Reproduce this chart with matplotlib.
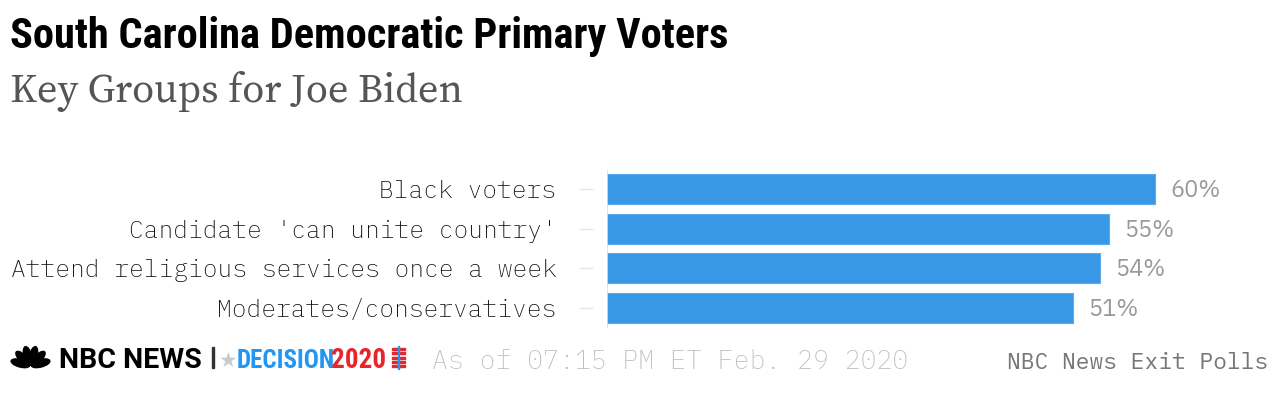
import math
import matplotlib
matplotlib.use("Agg")
import matplotlib.pyplot as plt
from matplotlib.patches import Ellipse, Rectangle
from matplotlib import font_manager

categories = ["Black voters", "Candidate 'can unite country'",
              "Attend religious services once a week", "Moderates/conservatives"]
values = [60, 55, 54, 51]
value_labels = ["60%", "55%", "54%", "51%"]

title = "South Carolina Democratic Primary Voters"
subtitle = "Key Groups for Joe Biden"
timestamp = "As of 07:15 PM ET Feb. 29 2020"
source = "NBC News Exit Polls"

names = {f.name for f in font_manager.fontManager.ttflist}

def pick(cands):
    for c in cands:
        if c in names:
            return c
    return "DejaVu Sans"

cond = pick(["Founders Grotesk Condensed", "Roboto Condensed", "Barlow Semi Condensed",
             "Archivo Narrow", "IBM Plex Sans Condensed", "Liberation Sans Narrow"])
serif = pick(["Publico Headline", "Publico Text", "Source Serif 4", "Source Serif Pro",
              "PT Serif", "Noto Serif", "Liberation Serif"])
mono = pick(["IBM Plex Mono", "DejaVu Sans Mono"])
sans = pick(["IBM Plex Sans", "Liberation Sans"])
grot = pick(["Roboto", "Liberation Sans"])

W, H = 1280, 394
fig = plt.figure(figsize=(W / 100, H / 100), dpi=100)
fig.patch.set_facecolor("white")

def fx(px):
    return px / W

def fy(py):
    return 1 - py / H

# Axes: bars start at x=607, 60% ends at 1155
left_px, right_px = 607, 1280
top_px, bot_px = 169.5, 327.5
ax = fig.add_axes([fx(left_px), fy(bot_px), (right_px - left_px) / W, (bot_px - top_px) / H])
px_per_unit = (1155 - 607) / 60
ax.set_xlim(0, (right_px - left_px) / px_per_unit)
ax.set_ylim(len(categories) - 0.5, -0.5)

ypos = list(range(len(categories)))
ax.barh(ypos, values, height=0.76, color="#3998e5", edgecolor="#5aaaf0", linewidth=0.8)

for y, v, lab in zip(ypos, values, value_labels):
    ax.annotate(lab, (v, y), xytext=(10.8, -1.2), textcoords="offset points",
                va="center", ha="left", color="#999999", fontsize=17,
                family=sans, fontweight="light")

for s in ["top", "right", "bottom"]:
    ax.spines[s].set_visible(False)
ax.spines["left"].set_position(("outward", 10))
ax.spines["left"].set_visible(False)
ax.axvline(0, color="#dddddd", linewidth=1.2)
ax.set_xticks([])
ax.set_yticks(ypos)
ax.set_yticklabels(categories, family=mono, fontsize=17.7, color="#0d0d0d",
                   fontweight="light")
ax.tick_params(axis="y", length=10, width=1, color="#e6e6e6", pad=16.5)
ax.set_facecolor("none")

# Titles
fig.text(fx(10), fy(48), title, fontsize=30.5, fontweight="bold", family=cond,
         color="#000000", va="baseline", ha="left")
fig.text(fx(10), fy(101.5), subtitle, fontsize=29, family=serif,
         color="#555555", va="baseline", ha="left")

# Footer logo approximation (peacock fan)
cx, cy = 30.5, H - 366
for i in range(6):
    ang = 15 + i * 30
    r = 10.5
    e = Ellipse((cx + r * math.cos(math.radians(ang)), cy + r * math.sin(math.radians(ang))),
                width=19, height=7.5, angle=ang, color="black", transform=None)
    fig.add_artist(e)
fig.text(fx(59), fy(367.5), "NBC NEWS", fontsize=20.5, fontweight="bold", family=grot,
         color="black", va="baseline", ha="left")
fig.add_artist(Rectangle((212, H - 368), 1.6, 21, color="#333333", transform=None))
fig.text(fx(219), fy(367), "\u2605", fontsize=15, family="DejaVu Sans", color="#c8ccd0",
         va="baseline", ha="left")
t_dec = fig.text(fx(237), fy(367.5), "DECISION", fontsize=18, fontweight="bold", family=cond,
                 color="#2196f3", va="baseline", ha="left")
fig.text(fx(331), fy(367.5), "2020", fontsize=19.5, fontweight="bold", family=cond,
         color="#e8252b", va="baseline", ha="left")
for k in range(5):
    fig.add_artist(Rectangle((392, H - 350 - k * 4.3), 13, 2, color="#e8252b", transform=None))
fig.add_artist(Rectangle((398, H - 369), 1.2, 23, color="#2196f3", transform=None))

fig.text(fx(432), fy(369), timestamp, fontsize=19, family=mono, color="#bdbdbd",
         va="baseline", ha="left", fontweight="light")
fig.text(fx(1268), fy(369), source, fontsize=16.5, family=mono, color="#777777",
         va="baseline", ha="right")

fig.savefig("out.png", dpi=100, facecolor="white")
